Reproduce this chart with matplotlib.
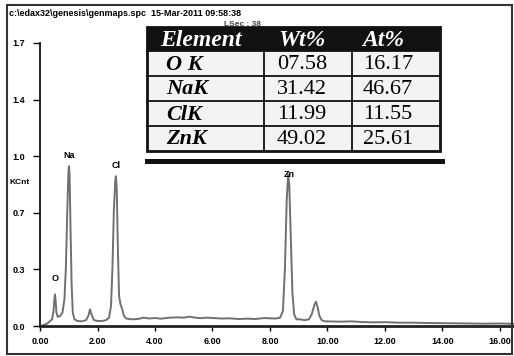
import numpy as np
import matplotlib
matplotlib.use("Agg")
import matplotlib.pyplot as plt
from matplotlib.patches import Rectangle

# Spectrum points (energy in keV, counts in KCnt)
energy = [0.05, 0.15, 0.25, 0.35, 0.42, 0.47, 0.50, 0.52, 0.545, 0.57, 0.62, 0.70, 0.78,
          0.85, 0.90, 0.95, 0.99, 1.01, 1.03, 1.06, 1.10, 1.14, 1.20, 1.30, 1.45, 1.60,
          1.68, 1.74, 1.80, 1.88, 2.00, 2.15, 2.30, 2.40, 2.47, 2.52, 2.57, 2.62, 2.64,
          2.67, 2.71, 2.75, 2.80, 2.86, 2.92, 3.00, 3.20, 3.40, 3.60, 3.80, 4.00, 4.20,
          4.50, 4.80, 5.00, 5.20, 5.40, 5.60, 5.80, 6.00, 6.30, 6.60, 6.90, 7.20, 7.50,
          7.80, 8.00, 8.20, 8.35, 8.45, 8.52, 8.58, 8.63, 8.67, 8.72, 8.78, 8.84, 8.92,
          9.05, 9.20, 9.35, 9.45, 9.55, 9.60, 9.66, 9.72, 9.80, 9.90, 10.2, 10.5, 10.8,
          11.2, 11.6, 12.0, 12.5, 13.0, 13.5, 14.0, 14.5, 15.0, 15.5, 16.0, 16.5]
counts = [0.0, 0.008, 0.015, 0.03, 0.04, 0.09, 0.16, 0.19, 0.15, 0.08, 0.055, 0.06, 0.08,
          0.16, 0.35, 0.70, 0.93, 0.96, 0.90, 0.60, 0.25, 0.08, 0.04, 0.03, 0.028, 0.035,
          0.06, 0.10, 0.065, 0.035, 0.03, 0.03, 0.035, 0.05, 0.12, 0.35, 0.70, 0.88, 0.90,
          0.82, 0.45, 0.18, 0.13, 0.10, 0.06, 0.045, 0.04, 0.042, 0.05, 0.045, 0.048, 0.044,
          0.05, 0.052, 0.05, 0.056, 0.05, 0.047, 0.05, 0.048, 0.045, 0.046, 0.042, 0.044, 0.042,
          0.048, 0.046, 0.045, 0.05, 0.09, 0.35, 0.75, 0.91, 0.85, 0.55, 0.20, 0.07, 0.04,
          0.04, 0.035, 0.04, 0.07, 0.13, 0.146, 0.11, 0.06, 0.035, 0.028, 0.027, 0.026, 0.028,
          0.024, 0.022, 0.023, 0.02, 0.02, 0.018, 0.017, 0.016, 0.015, 0.014, 0.015, 0.013]

peak_labels = ["O", "Na", "Cl", "Zn"]
peak_pos = [0.52, 1.01, 2.64, 8.66]
peak_label_y = [0.26, 1.00, 0.94, 0.885]

xticks = [0, 2, 4, 6, 8, 10, 12, 14, 16]
xtick_labels = ["0.00", "2.00", "4.00", "6.00", "8.00", "10.00", "12.00", "14.00", "16.00"]
yticks = [0.0, 0.34, 0.68, 1.02, 1.36, 1.70]
ytick_labels = ["0.0", "0.3", "0.7", "1.0", "1.4", "1.7"]

# Table contents
table_header = ["Element", "Wt%", "At%"]
elements = ["O K", "NaK", "ClK", "ZnK"]
wt_pct = ["07.58", "31.42", "11.99", "49.02"]
at_pct = ["16.17", "46.67", "11.55", "25.61"]

W, H = 514, 356
fig = plt.figure(figsize=(W / 100, H / 100), dpi=100)
fig.patch.set_facecolor("white")

ax = fig.add_axes([40 / W, 1 - 326 / H, 474 / W, 283 / H])
ax.plot(energy, counts, color="#707070", lw=1.4)
ax.set_xlim(0, 474 / 28.75)
ax.set_ylim(0, 1.7)
ax.spines["top"].set_visible(False)
ax.spines["right"].set_visible(False)
ax.spines["left"].set_linewidth(1.2)
ax.spines["bottom"].set_linewidth(2.0)
ax.spines["bottom"].set_color("#222222")
ax.set_xticks(xticks)
ax.set_xticklabels(xtick_labels, fontsize=6.5, fontweight="bold", family="Liberation Sans")
ax.set_yticks(yticks)
ax.set_yticklabels(ytick_labels, fontsize=6.5, fontweight="bold", family="Liberation Sans")
ax.tick_params(axis="x", direction="out", length=3.6, width=1, pad=4)
ax.tick_params(axis="y", direction="out", length=5, width=1, pad=5.5)
for name, xp, yp in zip(peak_labels, peak_pos, peak_label_y):
    ax.text(xp, yp, name, fontsize=6.5, fontweight="bold", ha="center", va="bottom",
            family="Liberation Sans")

# overlay in pixel coordinates for frame, header and table
ov = fig.add_axes([0, 0, 1, 1], facecolor="none")
ov.set_xlim(0, W)
ov.set_ylim(H, 0)
ov.axis("off")
ov.add_patch(Rectangle((7, 5), 505, 349, fill=False, ec="#333333", lw=1.5))
ov.text(9, 13, "c:\\edax32\\genesis\\genmaps.spc  15-Mar-2011 09:58:38", fontsize=6.5,
        fontweight="bold", family="Liberation Sans", va="center", ha="left")
ov.text(224, 25, "LSec : 38", fontsize=6, fontweight="bold", family="Liberation Sans",
        va="center", ha="left", color="#444444")
ov.text(9, 183, "KCnt", fontsize=6, fontweight="bold", family="Liberation Sans",
        va="center", ha="left")

# table
tx0, tx1 = 147, 440
col_x = [147, 264, 352, 440]
row_y = [27, 51, 76, 101, 126, 151]
ov.add_patch(Rectangle((tx0, row_y[0]), tx1 - tx0, row_y[-1] - row_y[0],
                       fc="#f3f3f3", ec="none", zorder=3))
ov.add_patch(Rectangle((tx0, row_y[0]), tx1 - tx0, row_y[1] - row_y[0],
                       fc="#111111", ec="none", zorder=3))
for y in row_y[1:-1]:
    ov.plot([tx0, tx1], [y, y], color="#111111", lw=1.3, zorder=4)
for x in col_x[1:-1]:
    ov.plot([x, x], [row_y[0], row_y[-1]], color="#111111", lw=1.3, zorder=4)
ov.add_patch(Rectangle((tx0, row_y[0]), tx1 - tx0, row_y[-1] - row_y[0],
                       fill=False, ec="#111111", lw=2.0, zorder=5))
ov.plot([tx0, tx1 + 2], [160.5, 160.5], color="#111111", lw=3.6, zorder=5)

text_x = [160, 278, 362]
for x, s in zip(text_x, table_header):
    ov.text(x, (row_y[0] + row_y[1]) / 2 + 1, s, fontsize=17, fontweight="bold",
            style="italic", family="Liberation Serif", color="white",
            va="center", ha="left", zorder=6)
for i in range(len(elements)):
    yc = (row_y[i + 1] + row_y[i + 2]) / 2 + 1
    ov.text(166, yc, elements[i], fontsize=16, fontweight="bold", style="italic",
            family="Liberation Serif", va="center", ha="left", zorder=6)
    ov.text(277, yc, wt_pct[i], fontsize=16, family="Liberation Serif",
            va="center", ha="left", zorder=6)
    ov.text(363, yc, at_pct[i], fontsize=16, family="Liberation Serif",
            va="center", ha="left", zorder=6)

fig.savefig("out.png", dpi=100)
